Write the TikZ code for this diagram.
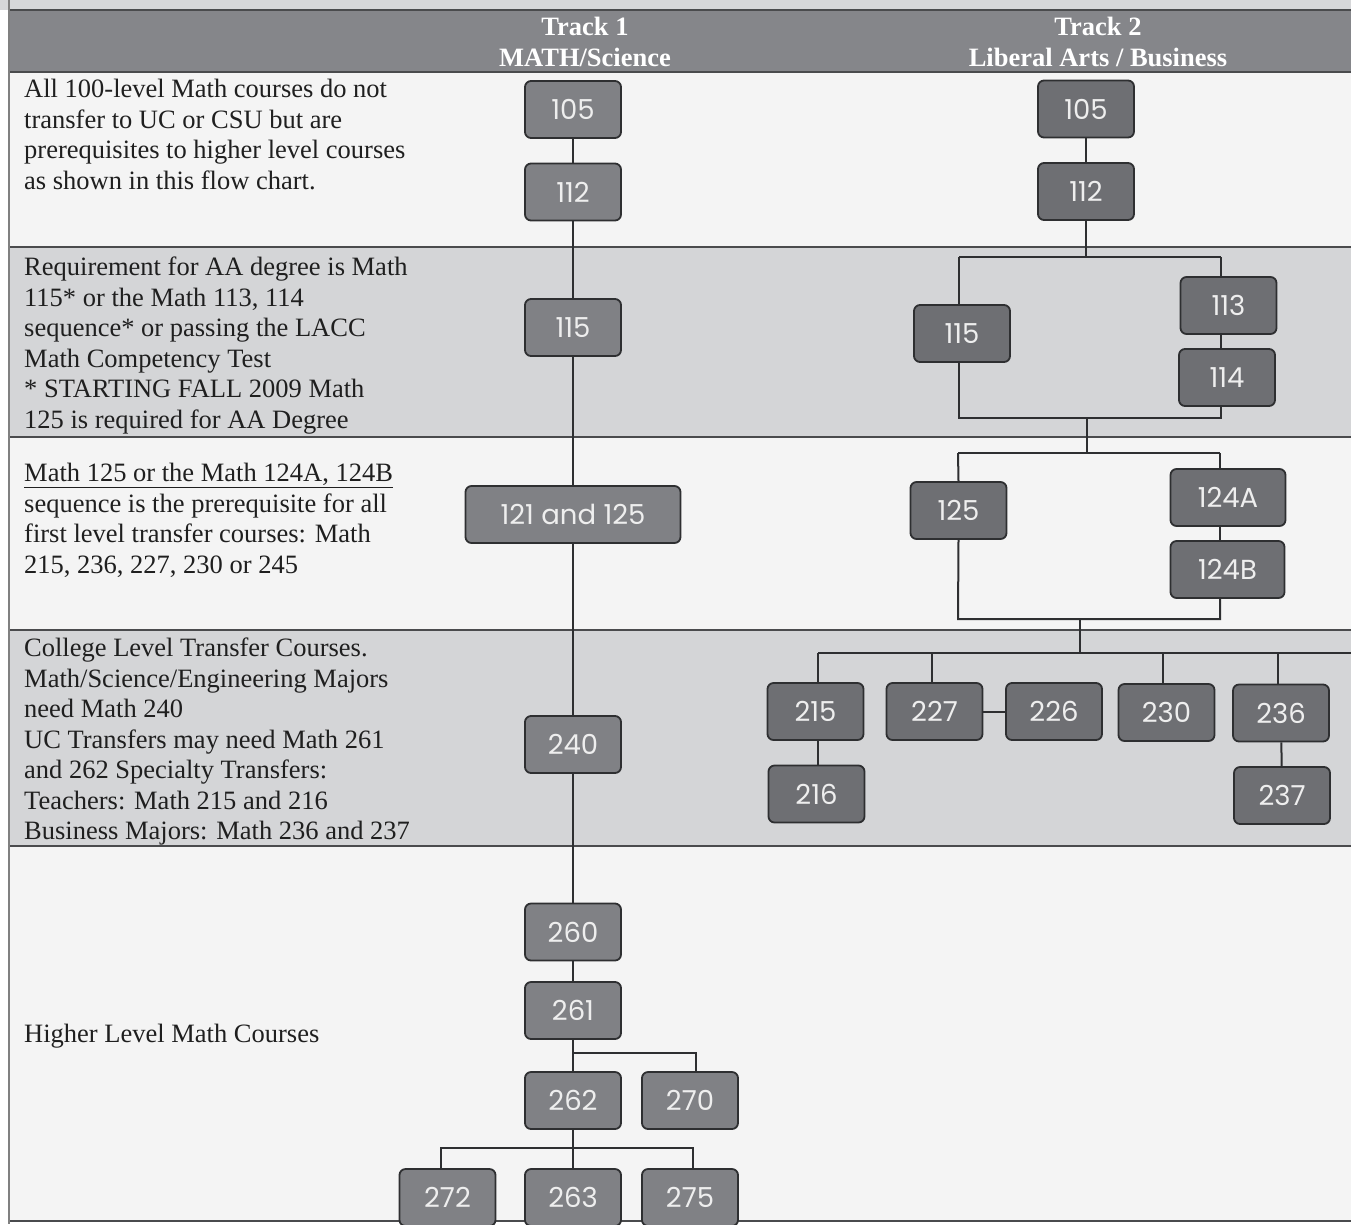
\documentclass[tikz,border=0pt]{standalone}
\usepackage{fontspec}
\setmainfont{Liberation Serif}
\newfontfamily\boxfont{Poppins}
\definecolor{topband}{HTML}{D6D7D9}
\definecolor{headfill}{HTML}{85868A}
\definecolor{rowwhite}{HTML}{F4F4F4}
\definecolor{rowgray}{HTML}{D4D5D7}
\definecolor{rule}{HTML}{4A4B4D}
\definecolor{tonefill}{HTML}{808185}
\definecolor{ttwofill}{HTML}{6E6F73}
\definecolor{boxline}{HTML}{2E2F31}
\definecolor{boxtext}{HTML}{EEEEEE}
\pgfdeclarelayer{bands}
\pgfdeclarelayer{lines}
\pgfsetlayers{bands,lines,main}
\begin{document}
\begin{tikzpicture}[x=1pt,y=-1pt,
  course/.style={draw=boxline,line width=1.8pt,rounded corners=6pt,
    minimum width=96pt,minimum height=57pt,inner sep=0pt,
    text=boxtext,font=\boxfont\fontsize{27.5}{30}\selectfont},
  tone/.style={course,fill=tonefill},
  ttwo/.style={course,fill=ttwofill},
  conn/.style={draw=boxline,line width=2pt},
  sep/.style={draw=rule,line width=2pt},
  lefttext/.style={anchor=north west,inner sep=0pt,align=left,
    font=\fontsize{26.5}{30.5}\selectfont,text=black!88},
  headtext/.style={inner sep=0pt,align=center,text=white,
    font=\bfseries\fontsize{26.5}{30.5}\selectfont}]
\useasboundingbox (0,0) rectangle (1351,1224);
\clip (0,0) rectangle (1351,1224);
\begin{pgfonlayer}{bands}
\fill[white] (0,0) rectangle (1351,1224);
\fill[topband] (0,0) rectangle (1351,10);
\fill[headfill] (9,10) rectangle (1351,72);
\fill[rowwhite] (9,72) rectangle (1351,247);
\fill[rowgray] (9,247) rectangle (1351,437);
\fill[rowwhite] (9,437) rectangle (1351,630);
\fill[rowgray] (9,630) rectangle (1351,846);
\fill[rowwhite] (9,846) rectangle (1351,1221);
\draw[sep] (9,10) -- (1351,10);
\draw[sep] (9,72) -- (1351,72);
\draw[sep] (9,247) -- (1351,247);
\draw[sep] (9,437) -- (1351,437);
\draw[sep] (9,630) -- (1351,630);
\draw[sep] (9,846) -- (1351,846);
\draw[sep] (9,1221) -- (1351,1221);
\draw[draw=gray,line width=1.2pt] (9,0) -- (9,1224);
\end{pgfonlayer}

% header
\node[headtext] (h1) at (585,42) {Track 1\\MATH/Science};
\node[headtext] (h2) at (1098,42) {Track 2\\Liberal Arts / Business};

% left descriptions
\node[lefttext] (d1) at (24,79) {All 100-level Math courses do not\\transfer to UC or CSU but are\\prerequisites to higher level courses\\as shown in this flow chart.};
\node[lefttext] (d2) at (24,257) {Requirement for AA degree is Math\\115* or the Math 113, 114\\sequence* or passing the LACC\\Math Competency Test\\* STARTING FALL 2009 Math\\125 is required for AA Degree};
\node[lefttext] (d3) at (24,463) {\underline{Math 125 or the Math 124A, 124B}\\sequence is the prerequisite for all\\first level transfer courses: Math\\215, 236, 227, 230 or 245};
\node[lefttext] (d4) at (24,638) {College Level Transfer Courses.\\Math/Science/Engineering Majors\\need Math 240\\UC Transfers may need Math 261\\and 262 Specialty Transfers:\\Teachers: Math 215 and 216\\Business Majors: Math 236 and 237};
\node[lefttext] (d5) at (24,1024) {Higher Level Math Courses};

% track 1
\node[tone] (a105) at (573,109.5) {105};
\node[tone] (a112) at (573,192) {112};
\node[tone] (a115) at (573,327.5) {115};
\node[tone,minimum width=215pt] (a121) at (573,514.5) {121 and 125};
\node[tone] (a240) at (573,744.5) {240};
\node[tone] (a260) at (573,932) {260};
\node[tone] (a261) at (573,1010.5) {261};
\node[tone] (a262) at (573,1100.5) {262};
\node[tone] (a270) at (690,1100.5) {270};
\node[tone] (a272) at (447.5,1197.5) {272};
\node[tone] (a263) at (573,1197.5) {263};
\node[tone] (a275) at (690,1197.5) {275};

% track 2
\node[ttwo] (b105) at (1086,109) {105};
\node[ttwo] (b112) at (1086,191.5) {112};
\node[ttwo] (b115) at (962,333.5) {115};
\node[ttwo] (b113) at (1228.5,305.5) {113};
\node[ttwo] (b114) at (1227,377.5) {114};
\node[ttwo] (b125) at (958.5,510.5) {125};
\node[ttwo,minimum width=115pt] (b124A) at (1228,497.5) {124A};
\node[ttwo,minimum width=114pt] (b124B) at (1227.5,569.5) {124B};
\node[ttwo] (b215) at (815.5,711.5) {215};
\node[ttwo] (b216) at (816.5,794) {216};
\node[ttwo] (b227) at (934.5,711.5) {227};
\node[ttwo] (b226) at (1054,711.5) {226};
\node[ttwo] (b230) at (1166.5,712.5) {230};
\node[ttwo] (b236) at (1281,713) {236};
\node[ttwo] (b237) at (1282,795.5) {237};

% junction coordinates
\coordinate (j1) at (573,1053);
\coordinate (j2) at (573,1148);
\coordinate (k1) at (1086,257);
\coordinate (k1l) at (959,257);
\coordinate (k1r) at (1221,257);
\coordinate (k2l) at (959,418);
\coordinate (k2r) at (1221,418);
\coordinate (k2) at (1087,418);
\coordinate (k3) at (1087,453);
\coordinate (k3l) at (958,453);
\coordinate (k3r) at (1220,453);
\coordinate (k4l) at (958,619);
\coordinate (k4r) at (1220,619);
\coordinate (k4) at (1080,619);
\coordinate (k5) at (1080,653);
\coordinate (k5l) at (818,653);
\coordinate (k5r) at (1351,653);

\begin{pgfonlayer}{lines}
% track 1 trunk
\draw[conn] (a105) -- (a112) -- (a115) -- (a121) -- (a240) -- (a260) -- (a261) -- (a262) -- (a263);
\draw[conn] (j1) -| ([xshift=6pt]a270.north);
\draw[conn] (j2) -| ([xshift=-7pt]a272.north);
\draw[conn] (j2) -| ([xshift=3pt]a275.north);
% track 2
\draw[conn] (b105) -- (b112) -- (k1);
\draw[conn] (k1l) -- (k1r);
\draw[conn] (k1l) -- (k1l |- b115.north);
\draw[conn] (k1r) -- (k1r |- b113.north);
\draw[conn] (k1r |- b113.south) -- (k1r |- b114.north);
\draw[conn] (k1l |- b115.south) -- (k2l) -- (k2r) -- (k2r |- b114.south);
\draw[conn] (k2) -- (k3);
\draw[conn] (k3l) -- (k3r);
\draw[conn] (k3l) -- (b125.north);
\draw[conn] (k3r) -- (k3r |- b124A.north);
\draw[conn] (k3r |- b124A.south) -- (k3r |- b124B.north);
\draw[conn] (b125.south) -- (k4l) -- (k4r) -- (k4r |- b124B.south);
\draw[conn] (k4) -- (k5);
\draw[conn] (k5l) -- (k5r);
\draw[conn] (k5l) -- (k5l |- b215.north);
\draw[conn] (k5l |- b215.south) -- (k5l |- b216.north);
\draw[conn] (932,653) -- (932,683) coordinate (c227);
\draw[conn] (b227) -- (b226);
\draw[conn] (1163,653) -- (1163,684) coordinate (c230);
\draw[conn] (1278,653) -- (1278,684) coordinate (c236);
\draw[conn] (b236) -- (b237);
\end{pgfonlayer}
\end{tikzpicture}
\end{document}
